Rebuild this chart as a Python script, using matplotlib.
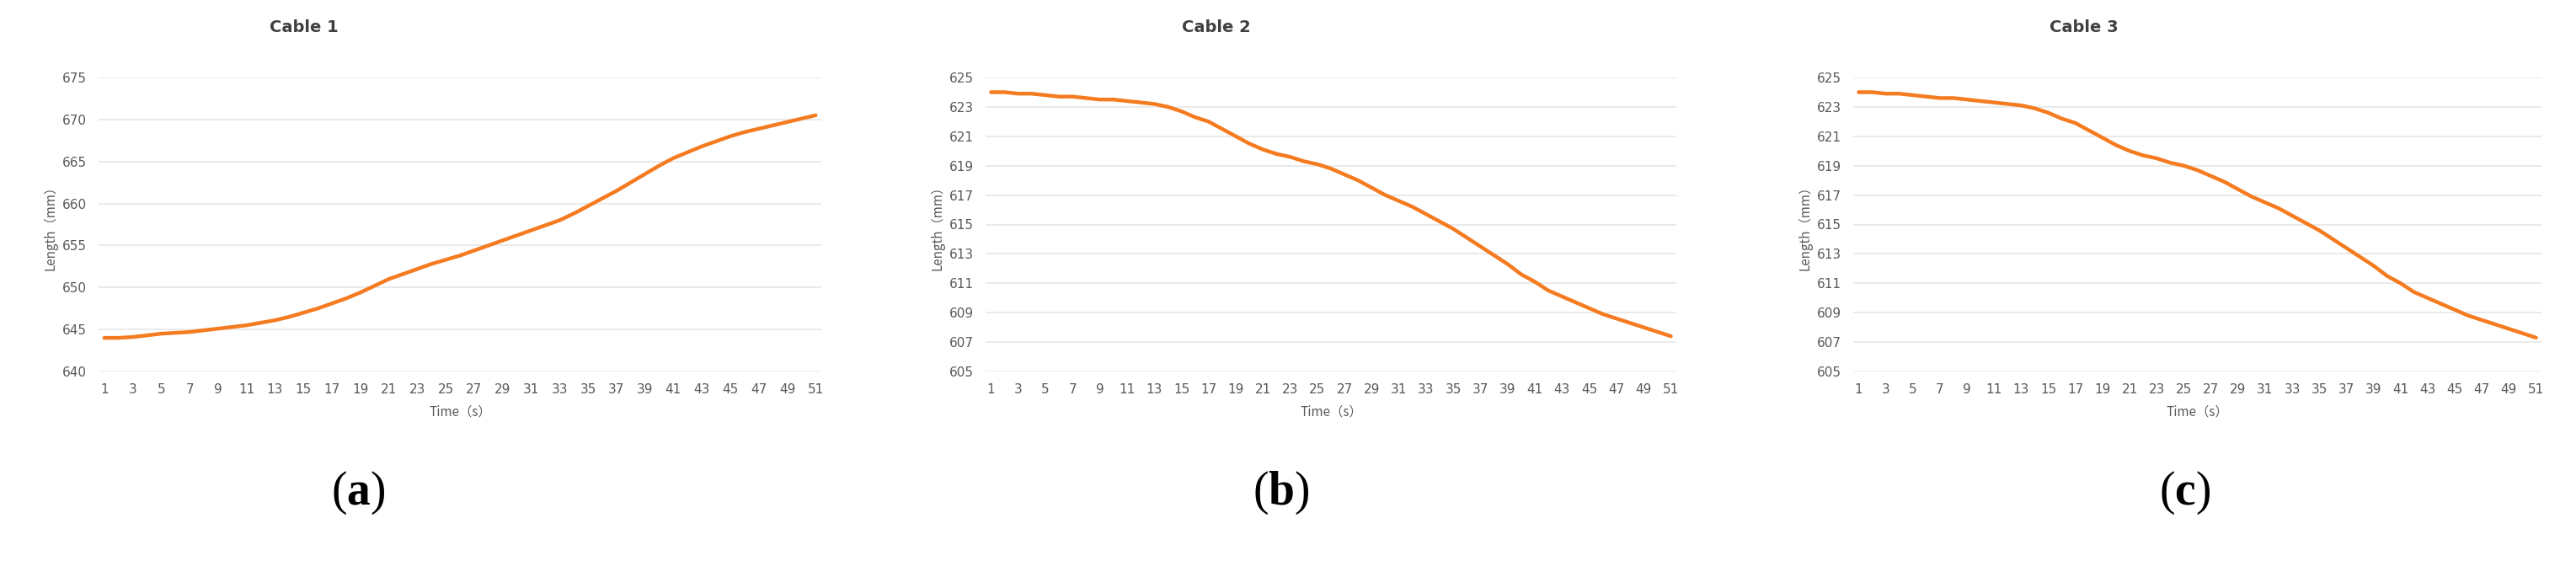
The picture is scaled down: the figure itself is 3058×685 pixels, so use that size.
import numpy as np
import matplotlib.pyplot as plt

plt.rcParams["mathtext.fontset"] = "custom"
plt.rcParams["mathtext.rm"] = "Liberation Serif"
plt.rcParams["mathtext.bf"] = "Liberation Serif:bold"

time = np.arange(1, 52)

cable1 = [644.0, 644.0, 644.1, 644.3, 644.5, 644.6, 644.7, 644.9, 645.1, 645.3,
          645.5, 645.8, 646.1, 646.5, 647.0, 647.5, 648.1, 648.7, 649.4, 650.2,
          651.0, 651.6, 652.2, 652.8, 653.3, 653.8, 654.4, 655.0, 655.6, 656.2,
          656.8, 657.4, 658.0, 658.8, 659.7, 660.6, 661.5, 662.5, 663.5, 664.5,
          665.4, 666.1, 666.8, 667.4, 668.0, 668.5, 668.9, 669.3, 669.7, 670.1,
          670.5]
cable2 = [624.0, 624.0, 623.9, 623.9, 623.8, 623.7, 623.7, 623.6, 623.5, 623.5,
          623.4, 623.3, 623.2, 623.0, 622.7, 622.3, 622.0, 621.5, 621.0, 620.5,
          620.1, 619.8, 619.6, 619.3, 619.1, 618.8, 618.4, 618.0, 617.5, 617.0,
          616.6, 616.2, 615.7, 615.2, 614.7, 614.1, 613.5, 612.9, 612.3, 611.6,
          611.1, 610.5, 610.1, 609.7, 609.3, 608.9, 608.6, 608.3, 608.0, 607.7,
          607.4]
cable3 = [624.0, 624.0, 623.9, 623.9, 623.8, 623.7, 623.6, 623.6, 623.5, 623.4,
          623.3, 623.2, 623.1, 622.9, 622.6, 622.2, 621.9, 621.4, 620.9, 620.4,
          620.0, 619.7, 619.5, 619.2, 619.0, 618.7, 618.3, 617.9, 617.4, 616.9,
          616.5, 616.1, 615.6, 615.1, 614.6, 614.0, 613.4, 612.8, 612.2, 611.5,
          611.0, 610.4, 610.0, 609.6, 609.2, 608.8, 608.5, 608.2, 607.9, 607.6,
          607.3]

titles = ["Cable 1", "Cable 2", "Cable 3"]
letters = ["a", "b", "c"]
series = [cable1, cable2, cable3]
yticks = [np.arange(640, 676, 5), np.arange(605, 626, 2), np.arange(605, 626, 2)]
lefts = [117, 1170, 2200]
widths = [858, 820, 817]
title_x = [361, 1444, 2474]
letter_x = [425, 1521, 2594]

W, H = 3058, 685
fig = plt.figure(figsize=(W / 100, H / 100), dpi=100)

for i in range(3):
    ax = fig.add_axes([lefts[i] / W, (H - 441) / H, widths[i] / W, 349 / H])
    ax.plot(time, series[i], color="#F47B20", lw=3.2, solid_capstyle="round")
    ax.set_xlim(0.6, 51.4)
    ax.set_ylim(yticks[i][0], yticks[i][-1])
    ax.set_yticks(yticks[i])
    ax.set_xticks(time[::2])
    ax.grid(axis="y", color="#e6e6e6", lw=1.2)
    ax.set_axisbelow(True)
    for s in ax.spines.values():
        s.set_visible(False)
    ax.tick_params(length=0, labelsize=11, colors="#595959", pad=10)
    ax.set_xlabel("Time（s）", fontsize=11, color="#595959", labelpad=8,
                  family=["Noto Sans CJK SC", "DejaVu Sans"])
    ax.set_ylabel("Length（mm）", fontsize=11, color="#595959",
                  family=["Noto Sans CJK SC", "DejaVu Sans"])
    fig.text(title_x[i] / W, 1 - 33 / H, titles[i], fontsize=14, color="#404040",
             fontweight="bold", ha="center", va="center")
    fig.text(letter_x[i] / W, 1 - 585 / H, r"$\mathrm{(}\mathbf{" + letters[i] + r"}\mathrm{)}$",
             fontsize=40, ha="center", va="center")

fig.savefig("out.png", dpi=100)
